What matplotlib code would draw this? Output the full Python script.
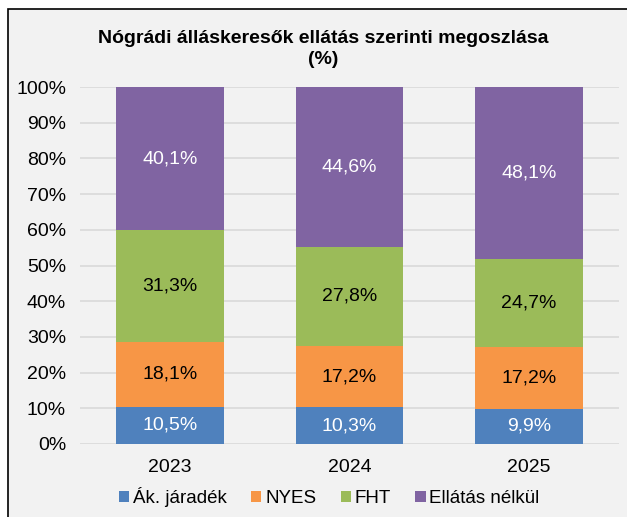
import matplotlib
matplotlib.use("Agg")
import matplotlib.pyplot as plt
from matplotlib.patches import Rectangle, Patch

plt.rcParams['font.family'] = ['Liberation Sans', 'DejaVu Sans']

years = ["2023", "2024", "2025"]
series_names = ["Ák. járadék", "NYES", "FHT", "Ellátás nélkül"]
ak_jaradek = [10.5, 10.3, 9.9]
nyes = [18.1, 17.2, 17.2]
fht = [31.3, 27.8, 24.7]
ellatas_nelkul = [40.1, 44.6, 48.1]
colors = ["#4F81BD", "#F79646", "#9BBB59", "#8064A2"]
label_colors = ["white", "black", "black", "white"]
yticks = [0, 10, 20, 30, 40, 50, 60, 70, 80, 90, 100]

W, H = 627, 517
fig = plt.figure(figsize=(W/100, H/100), dpi=100)
fig.patch.set_facecolor("white")
fig.patches.append(Rectangle((8/W, -0.1), 1.2, 1.1 - 9/H, transform=fig.transFigure,
                             facecolor="#F2F2F2", edgecolor="black", lw=1.2, zorder=-10))

ax = fig.add_axes([80/W, 73/H, 539/W, 357/H])
ax.set_facecolor("none")
x = range(len(years))
bottom = [0, 0, 0]
all_series = [ak_jaradek, nyes, fht, ellatas_nelkul]
for vals, name, c, lc in zip(all_series, series_names, colors, label_colors):
    ax.bar(x, vals, bottom=bottom, width=0.6, color=c, label=name, zorder=3)
    for xi, v, b in zip(x, vals, bottom):
        ax.text(xi, b + v/2, f"{v:.1f}%".replace(".", ","), ha="center", va="center",
                color=lc, fontsize=14, zorder=4)
    bottom = [b + v for b, v in zip(bottom, vals)]

ax.set_ylim(0, 100)
ax.set_xlim(-0.5, 2.5)
ax.set_yticks(yticks)
ax.set_yticklabels([f"{t}%" for t in yticks], fontsize=14)
ax.set_xticks(list(x))
ax.set_xticklabels(years, fontsize=14)
ax.tick_params(axis="both", length=0, colors="#000000")
ax.tick_params(axis="y", pad=10)
ax.tick_params(axis="x", pad=11)
ax.grid(axis="y", color="#D9D9D9", lw=1.2, zorder=0)
for s in ax.spines.values():
    s.set_visible(False)

fig.text(0.515, 1 - 49/H, "Nógrádi álláskeresők ellátás szerinti megoszlása\n(%)",
         ha="center", va="center", fontsize=14, fontweight="bold", linespacing=1.25)

handles = [Patch(facecolor=c, label=n) for c, n in zip(colors, series_names)]
fig.legend(handles=handles, loc="center", bbox_to_anchor=(0.525, 1 - 497/H), ncol=4,
           frameon=False, fontsize=13.5, handlelength=0.55, handleheight=0.55,
           handletextpad=0.2, columnspacing=1.3)

fig.savefig("out.png", dpi=100, facecolor=fig.get_facecolor())
